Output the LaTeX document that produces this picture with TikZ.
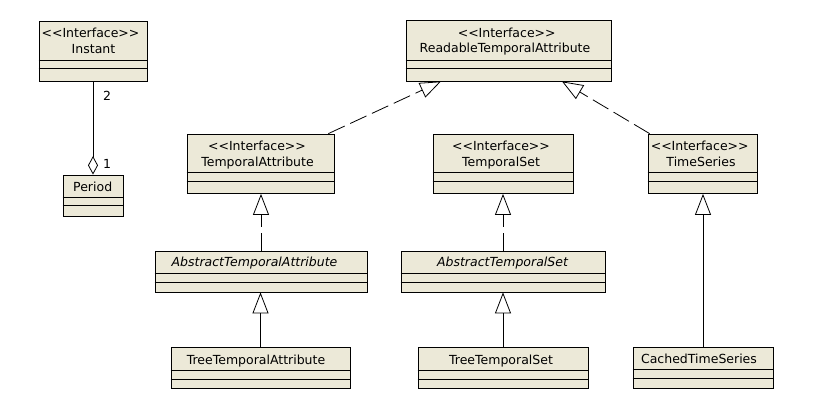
\documentclass[tikz,border=0pt]{standalone}
\usepackage{fontspec}
\setmainfont{DejaVu Sans}
\usetikzlibrary{arrows.meta,calc}
\definecolor{umlfill}{HTML}{ECE9D8}
\newcommand\ster[1]{<\kern0pt<#1>\kern0pt>}
\begin{document}
\begin{tikzpicture}[x=1pt,y=-1pt,
  cls/.style={draw=black, fill=umlfill, line width=0.8pt, inner sep=0pt, rectangle},
  cmp/.style={draw=black, line width=0.8pt},
  lbl/.style={anchor=base, inner sep=0pt, font=\fontsize{12.5pt}{15pt}\selectfont},
  ilbl/.style={anchor=base, inner sep=0pt, font=\fontsize{12.5pt}{15pt}\selectfont\itshape},
  real/.style={line width=0.8pt, -{Triangle[open, length=21pt, width=16pt]}},
  dep/.style={real, dash pattern=on 18pt off 6pt},
  agg/.style={line width=0.8pt, -{Diamond[open, length=18.5pt, width=10pt]}},
]
\fill[white] (0,0) rectangle (814,411);
\useasboundingbox (0,0) rectangle (814,411);

% ---------- classes ----------
\node[cls, minimum width=108pt, minimum height=60pt] (inst) at (93,51) {};
\draw[cmp] (inst.west |- 0,60.5) -- (inst.east |- 0,60.5);
\draw[cmp] (inst.west |- 0,68.5) -- (inst.east |- 0,68.5);
\node[lbl] (instS) at (90.5,38) {\ster{Interface}};
\node[lbl] (instN) at (93.5,53.3) {Instant};

\node[cls, minimum width=60pt, minimum height=41.5pt] (per) at (93,195.75) {};
\draw[cmp] (per.west |- 0,197.5) -- (per.east |- 0,197.5);
\draw[cmp] (per.west |- 0,205.5) -- (per.east |- 0,205.5);
\node[lbl] (perN) at (92.7,191.5) {Period};

\node[cls, minimum width=205pt, minimum height=61pt] (rta) at (508.5,50.5) {};
\draw[cmp] (rta.west |- 0,60.5) -- (rta.east |- 0,60.5);
\draw[cmp] (rta.west |- 0,68.5) -- (rta.east |- 0,68.5);
\node[lbl] (rtaS) at (506.7,37.7) {\ster{Interface}};
\node[lbl] (rtaN) at (505,53) {ReadableTemporalAttribute};

\node[cls, minimum width=147pt, minimum height=59.5pt] (ta) at (260.5,163.75) {};
\draw[cmp] (ta.west |- 0,172.5) -- (ta.east |- 0,172.5);
\draw[cmp] (ta.west |- 0,181) -- (ta.east |- 0,181);
\node[lbl] (taS) at (257,151) {\ster{Interface}};
\node[lbl] (taN) at (257.5,167) {TemporalAttribute};

\node[cls, minimum width=140pt, minimum height=59.5pt] (ts) at (503,163.75) {};
\draw[cmp] (ts.west |- 0,172.5) -- (ts.east |- 0,172.5);
\draw[cmp] (ts.west |- 0,181.5) -- (ts.east |- 0,181.5);
\node[lbl] (tsS) at (501,151) {\ster{Interface}};
\node[lbl] (tsN) at (501,167) {TemporalSet};

\node[cls, minimum width=109pt, minimum height=59.5pt] (tser) at (702.5,163.75) {};
\draw[cmp] (tser.west |- 0,172.5) -- (tser.east |- 0,172.5);
\draw[cmp] (tser.west |- 0,181.5) -- (tser.east |- 0,181.5);
\node[lbl] (tserS) at (699.7,151) {\ster{Interface}};
\node[lbl] (tserN) at (701,167) {TimeSeries};

\node[cls, minimum width=212pt, minimum height=41pt] (ata) at (261,271.5) {};
\draw[cmp] (ata.west |- 0,273) -- (ata.east |- 0,273);
\draw[cmp] (ata.west |- 0,282) -- (ata.east |- 0,282);
\node[ilbl] (ataN) at (254.5,266.7) {AbstractTemporalAttribute};

\node[cls, minimum width=204pt, minimum height=41pt] (ats) at (503,271.5) {};
\draw[cmp] (ats.west |- 0,273) -- (ats.east |- 0,273);
\draw[cmp] (ats.west |- 0,282) -- (ats.east |- 0,282);
\node[ilbl] (atsN) at (502.5,266.7) {AbstractTemporalSet};

\node[cls, minimum width=179pt, minimum height=41pt] (tta) at (260.5,368) {};
\draw[cmp] (tta.west |- 0,370) -- (tta.east |- 0,370);
\draw[cmp] (tta.west |- 0,379) -- (tta.east |- 0,379);
\node[lbl] (ttaN) at (256,364.3) {TreeTemporalAttribute};

\node[cls, minimum width=170pt, minimum height=41pt] (tts) at (503,368) {};
\draw[cmp] (tts.west |- 0,370) -- (tts.east |- 0,370);
\draw[cmp] (tts.west |- 0,379) -- (tts.east |- 0,379);
\node[lbl] (ttsN) at (501,364.3) {TreeTemporalSet};

\node[cls, minimum width=140pt, minimum height=41pt] (cts) at (703,368) {};
\draw[cmp] (cts.west |- 0,369.5) -- (cts.east |- 0,369.5);
\draw[cmp] (cts.west |- 0,378.5) -- (cts.east |- 0,378.5);
\node[lbl] (ctsN) at (699,364) {CachedTimeSeries};

% ---------- connectors ----------
\draw[agg] (inst) -- (per);
\node[lbl] (m2) at (107,101) {2};
\node[lbl] (m1) at (107,169) {1};

\draw[dep] ([xshift=-6pt]ta.north east) -- ([xshift=-67.5pt]rta.south);
\draw[dep] ([xshift=2pt]tser.north west) -- ([xshift=53.5pt]rta.south);
\draw[dep] (ata.north) -- (ata.north |- ta.south);
\draw[real] (tta.north) -- (tta.north |- ata.south);
\draw[dep] (ats.north) -- (ats.north |- ts.south);
\draw[real] (tts.north) -- (tts.north |- ats.south);
\draw[real] (cts.north) -- (cts.north |- tser.south);
\end{tikzpicture}
\end{document}
